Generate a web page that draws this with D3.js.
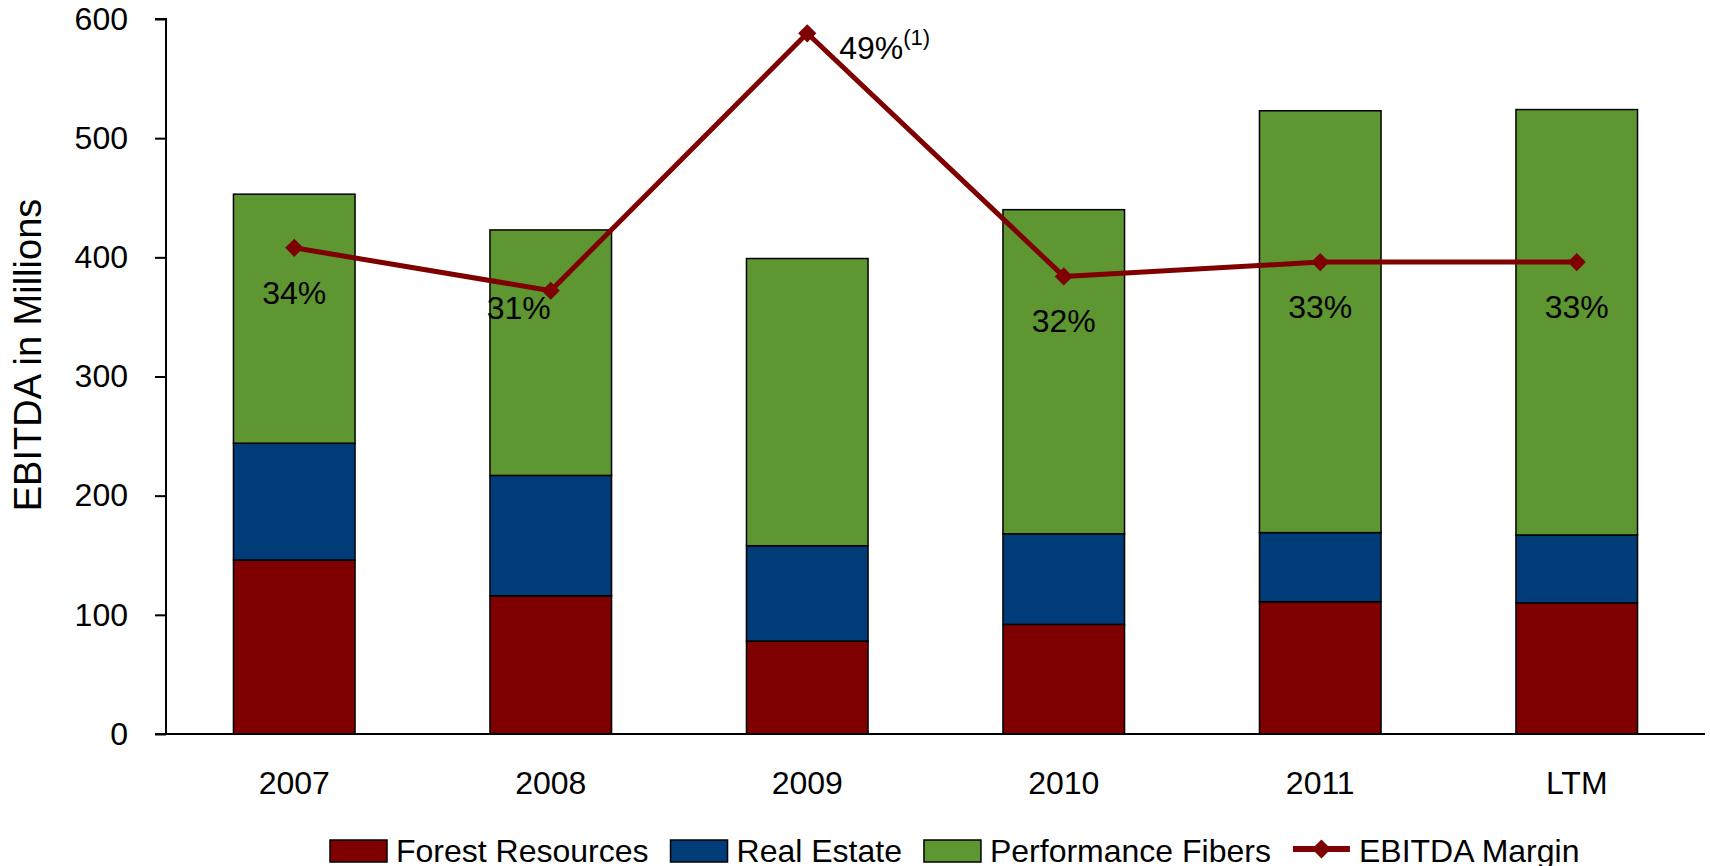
<!DOCTYPE html>
<html>
<head>
<meta charset="utf-8">
<script src="https://cdn.jsdelivr.net/npm/d3@7"></script>
<style>
  html, body { margin: 0; padding: 0; background: #fff; }
  svg { display: block; font-family: "Liberation Sans", Arial, sans-serif; }
</style>
</head>
<body>
<div id="chart"></div>
<script>
// data
var years = ["2007", "2008", "2009", "2010", "2011", "LTM"];
var forestResources = [146, 116, 78, 92, 111, 110];
var realEstate = [98, 101, 80, 76, 58, 57];
var performanceFibers = [209, 206, 241, 272, 354, 357];
var ebitdaMargin = [34, 31, 49, 32, 33, 33];
var yTicks = [0, 100, 200, 300, 400, 500, 600];

var seriesNames = ["Forest Resources", "Real Estate", "Performance Fibers"];
var seriesColors = ["#7f0000", "#003c78", "#5e9632"];
var lineColor = "#7f0000";

var W = 1710, H = 866;
var margin = { left: 166, top: 19, right: 5, bottom: 132 };
var width = W - margin.left - margin.right,
    height = H - margin.top - margin.bottom;
var fs = "32px";

var svg = d3.select("#chart").append("svg")
    .attr("width", W)
    .attr("height", H);

var g = svg.append("g")
    .attr("transform", "translate(" + margin.left + "," + margin.top + ")");

var x = d3.scaleBand()
    .domain(years)
    .range([0, width])
    .paddingInner(0.526)
    .paddingOuter(0.263);

var y = d3.scaleLinear().domain([0, 600]).range([height, 0]);
// hidden secondary axis for the margin line
var y2 = d3.scaleLinear().domain([0, 50]).range([height, 0]);

// build the stack table
var table = years.map(function(yr, i) {
  return { year: yr, f: forestResources[i], r: realEstate[i], p: performanceFibers[i] };
});
var stack = d3.stack().keys(["f", "r", "p"]);
var layers = stack(table);

g.selectAll(".layer")
  .data(layers)
  .enter().append("g")
    .attr("class", "layer")
    .attr("fill", function(d, i) { return seriesColors[i]; })
  .selectAll("rect")
  .data(function(d) { return d; })
  .enter().append("rect")
    .attr("x", function(d) { return x(d.data.year); })
    .attr("y", function(d) { return y(d[1]); })
    .attr("width", x.bandwidth())
    .attr("height", function(d) { return y(d[0]) - y(d[1]); })
    .attr("stroke", "#000")
    .attr("stroke-width", 1.5);

// y axis
var yAxis = g.append("g")
    .call(d3.axisLeft(y).tickValues(yTicks).tickSize(11).tickPadding(27));
yAxis.select(".domain").attr("stroke", "#000").attr("stroke-width", 2)
    .attr("d", "M-11," + height + "H0V0H-11");
yAxis.selectAll(".tick line").attr("stroke", "#000").attr("stroke-width", 2);
yAxis.selectAll(".tick text")
    .attr("fill", "#000")
    .style("font-size", fs)
    .style("font-family", "Liberation Sans, Arial, sans-serif");

// x axis (no tick marks)
var xAxis = g.append("g")
    .attr("transform", "translate(0," + height + ")")
    .call(d3.axisBottom(x).tickSize(0).tickPadding(37));
xAxis.select(".domain").attr("stroke", "#000").attr("stroke-width", 2)
    .attr("d", "M-11,0H" + width);
xAxis.selectAll(".tick text")
    .attr("fill", "#000")
    .style("font-size", fs)
    .style("font-family", "Liberation Sans, Arial, sans-serif");

// y axis title
svg.append("text")
    .attr("transform", "translate(41," + 355 + ") rotate(-90)")
    .attr("text-anchor", "middle")
    .style("font-size", "38px")
    .attr("fill", "#000")
    .text("EBITDA in Millions");

// margin line
var cx = function(d, i) { return x(years[i]) + x.bandwidth() / 2; };
var line = d3.line()
    .x(function(d, i) { return cx(d, i); })
    .y(function(d) { return y2(d); });

g.append("path")
    .datum(ebitdaMargin)
    .attr("fill", "none")
    .attr("stroke", lineColor)
    .attr("stroke-width", 5)
    .attr("stroke-linejoin", "round")
    .attr("d", line);

var diamond = d3.symbol().type(d3.symbolDiamond2).size(210);
g.selectAll(".marker")
  .data(ebitdaMargin)
  .enter().append("path")
    .attr("class", "marker")
    .attr("transform", function(d, i) { return "translate(" + cx(d, i) + "," + y2(d) + ")"; })
    .attr("d", diamond)
    .attr("fill", lineColor);

// margin labels
var labels = g.selectAll(".mlabel")
  .data(ebitdaMargin)
  .enter().append("text")
    .attr("class", "mlabel")
    .style("font-size", fs)
    .attr("fill", "#000")
    .attr("x", function(d, i) {
      if (i == 1) return cx(d, i);
      if (i == 2) return cx(d, i) + 32;
      return cx(d, i);
    })
    .attr("y", function(d, i) {
      if (i == 1) return y2(d) + 28;
      if (i == 2) return y2(d) + 26;
      return y2(d) + 56;
    })
    .attr("text-anchor", function(d, i) {
      if (i == 1) return "end";
      if (i == 2) return "start";
      return "middle";
    });

labels.append("tspan").text(function(d) { return d + "%"; });
labels.filter(function(d, i) { return i == 2; })
  .append("tspan")
    .attr("dy", -14)
    .style("font-size", "22px")
    .text("(1)");

// legend
var legend = svg.append("g").attr("transform", "translate(330,0)");
var lx = 0;
var items = seriesNames.concat(["EBITDA Margin"]);
items.forEach(function(name, i) {
  var item = legend.append("g").attr("transform", "translate(" + lx + ",0)");
  if (i < 3) {
    item.append("rect")
      .attr("x", 0).attr("y", 840)
      .attr("width", 57).attr("height", 22)
      .attr("fill", seriesColors[i])
      .attr("stroke", "#000")
      .attr("stroke-width", 1.5);
  } else {
    item.append("line")
      .attr("x1", 0).attr("x2", 57)
      .attr("y1", 849).attr("y2", 849)
      .attr("stroke", lineColor)
      .attr("stroke-width", 6);
    item.append("path")
      .attr("transform", "translate(28.5,849)")
      .attr("d", d3.symbol().type(d3.symbolDiamond2).size(230)())
      .attr("fill", lineColor);
  }
  var t = item.append("text")
    .attr("x", 66)
    .attr("y", 862)
    .style("font-size", fs)
    .attr("fill", "#000")
    .text(name);
  lx += 66 + t.node().getComputedTextLength() + 22;
});
</script>
</body>
</html>
